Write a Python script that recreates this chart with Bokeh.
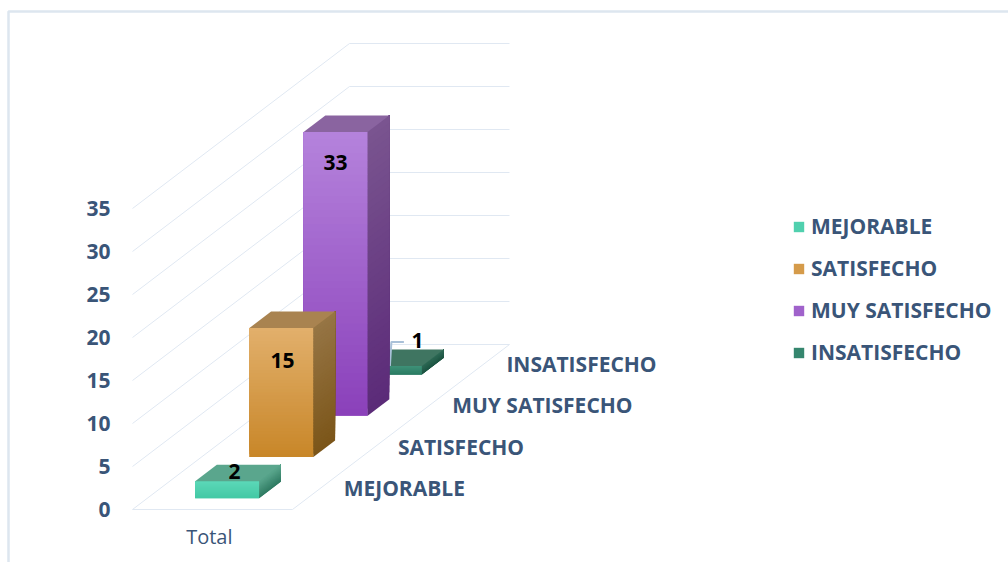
from bokeh.plotting import figure
from bokeh.embed import file_html
from bokeh.resources import INLINE
from bokeh.models import Legend, LegendItem, FixedTicker, Range1d
from bokeh.core.properties import value

categories = ["MEJORABLE", "SATISFECHO", "MUY SATISFECHO", "INSATISFECHO"]
values = [2, 15, 33, 1]
ticks = [0, 5, 10, 15, 20, 25, 30, 35]
group_label = "Total"

front_top = ["#5cd8b8", "#e2b06c", "#b583dc", "#3f9179"]
front_bottom = ["#43c8a4", "#c88628", "#8a40ba", "#2b7c62"]
top_face = ["#5aa68d", "#a98350", "#8a64a0", "#3f7561"]
side_top = ["#5aa68d", "#967545", "#7a5590", "#2f6a56"]
side_bottom = ["#2f7a62", "#7b5518", "#5b2a78", "#1d5442"]

TEXT = "#3a5578"
GRID = "#e0e8f2"
FONT = "Open Sans"

PX_PER_UNIT = 8.6
X0, Y0 = 132, 509
WIDTH_X, DEPTH_X, DEPTH_Y = 160, 54.25, 41.25
W, H = 1008, 562


def proj(x, z, v):
    return X0 + WIDTH_X * x + DEPTH_X * z, v + DEPTH_Y * z / PX_PER_UNIT


def py(pixel):
    return (Y0 - pixel) / PX_PER_UNIT


def mix(a, b, t):
    ca = [int(a[i:i + 2], 16) for i in (1, 3, 5)]
    cb = [int(b[i:i + 2], 16) for i in (1, 3, 5)]
    return "#%02x%02x%02x" % tuple(round(p + (q - p) * t) for p, q in zip(ca, cb))


p = figure(width=W, height=H, output_backend="svg", toolbar_location=None,
           x_range=Range1d(0, W), y_range=Range1d(py(H), py(0)),
           x_axis_type=None, min_border=0, outline_line_color=None)
p.grid.visible = False

# chart border (top and left edge)
p.line([8, 8, W], [py(H), py(11), py(11)], line_color="#dde6ef", line_width=2.5)

# value axis
ax = p.yaxis[0]
ax.fixed_location = X0
ax.ticker = FixedTicker(ticks=ticks)
ax.axis_line_color = None
ax.major_tick_line_color = None
ax.minor_tick_line_color = None
ax.major_label_standoff = 16
ax.major_label_text_font = FONT
ax.major_label_text_font_style = "bold"
ax.major_label_text_font_size = "21px"
ax.major_label_text_color = TEXT

# walls and floor
xs, ys = [], []
for t in ticks:
    a, b, c = proj(0, 0, t), proj(0, 4, t), proj(1, 4, t)
    xs.append([a[0], b[0], c[0]])
    ys.append([a[1], b[1], c[1]])
a, b, c = proj(0, 0, 0), proj(1, 0, 0), proj(1, 4, 0)
xs.append([a[0], b[0], c[0]])
ys.append([a[1], b[1], c[1]])
p.multi_line(xs, ys, line_color=GRID, line_width=1)

# bars, back to front
BAR_W, BAR_D = 0.4, 0.4
STRIPS = 40
legend_renderers = {}
for i in reversed(range(len(categories))):
    v = values[i]
    x0, x1 = 0.3, 0.3 + BAR_W
    z0, z1 = i + 0.27, i + 0.27 + BAR_D
    fl = proj(x0, z0, 0)
    fr = proj(x1, z0, 0)
    mid = mix(front_top[i], front_bottom[i], 0.5)
    legend_renderers[i] = p.quad(left=[fl[0]], right=[fr[0]], bottom=[fl[1]], top=[fl[1] + v],
                                 fill_color=mid, line_color=None)
    # each strip reaches the top of the bar, later strips paint over it: no seams
    for k in range(STRIPS):
        va = v * k / STRIPS
        t = (k + 0.5) / STRIPS
        p.quad(left=[fl[0]], right=[fr[0]], bottom=[fl[1] + va], top=[fl[1] + v],
               fill_color=mix(front_bottom[i], front_top[i], t), line_color=None)
        q = [proj(x1, z0, va), proj(x1, z1, va), proj(x1, z1, v), proj(x1, z0, v)]
        p.patch([c[0] for c in q], [c[1] for c in q],
                fill_color=mix(side_bottom[i], side_top[i], t), line_color=None)
    q = [proj(x0, z0, v), proj(x1, z0, v), proj(x1, z1, v), proj(x0, z1, v)]
    p.patch([c[0] for c in q], [c[1] for c in q], fill_color=top_face[i], line_color=None)
    if i == 3:
        # leader line of the small bar's label
        lx, ly = fl[0] + 45, fl[1] + v
        p.line([lx - 13, lx - 11.5, lx + 1], [ly, ly + 2.8, ly + 2.8], line_color="#a9c0d8", line_width=2)

# data labels (drawn above bars)
lab_x = [234, 282, 335, 417]
lab_y = [py(471), py(360), py(162), py(340)]
p.text(lab_x, lab_y, text=[str(v) for v in values], text_font=value(FONT), text_font_style="bold",
       text_font_size="21px", text_color="#000000", text_align="center", text_baseline="middle")

# category labels on the depth axis
cx = [proj(1, i + 0.5, 0)[0] for i in range(4)]
cy = [proj(1, i + 0.5, 0)[1] for i in range(4)]
p.text(cx, cy, text=categories, x_offset=24, y_offset=-1, text_font=value(FONT), text_font_style="bold",
       text_font_size="21px", text_color=TEXT, text_align="left", text_baseline="middle")

# group label
p.text([proj(0.48, 0, 0)[0]], [py(536)], text=[group_label], text_font=value(FONT),
       text_font_size="20px", text_color=TEXT, text_align="center", text_baseline="middle")

legend = Legend(items=[LegendItem(label=categories[i], renderers=[legend_renderers[i]]) for i in range(4)],
                location=(792, H - 366), orientation="vertical",
                glyph_width=13, glyph_height=13, label_standoff=6, spacing=14, padding=0, margin=0,
                border_line_color=None, background_fill_color=None,
                label_text_font=FONT, label_text_font_style="bold", label_text_font_size="21px",
                label_text_color=TEXT, label_height=20)
p.add_layout(legend, "center")

open("out.html", "w").write(file_html(p, INLINE))
